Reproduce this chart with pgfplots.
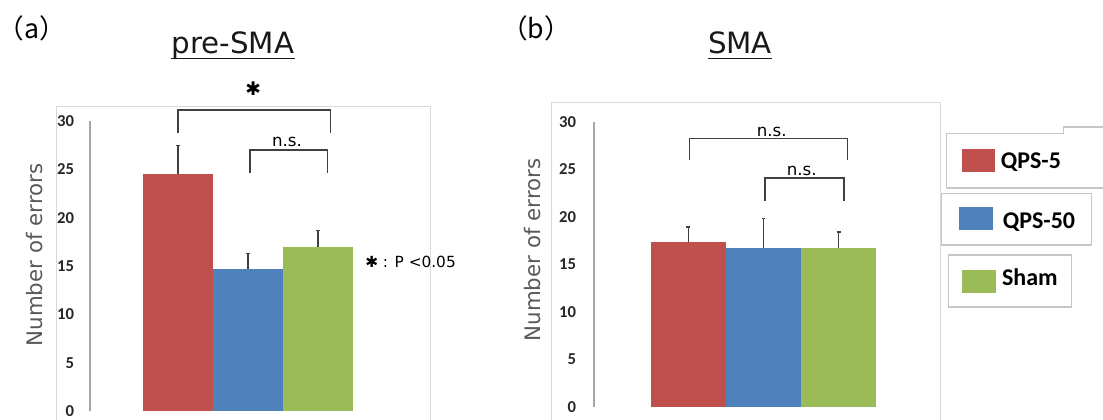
\documentclass[border=0pt]{standalone}
\usepackage{fontspec}
\setmainfont{Carlito}
\newfontfamily\dv{DejaVu Sans}
\newfontfamily\cjk{Noto Sans CJK JP}
\usepackage{pgfplots}
\pgfplotsset{compat=1.18}
\definecolor{qred}{HTML}{C0504D}
\definecolor{qblue}{HTML}{4F81BD}
\definecolor{qgreen}{HTML}{9BBB59}
\definecolor{errgray}{HTML}{404040}
\definecolor{areagray}{HTML}{D9D9D9}
\definecolor{axgray}{HTML}{A6A6A6}
\definecolor{labgray}{HTML}{595959}
\tikzset{brk/.style={draw=errgray, line width=1pt}}
\pgfplotsset{
  barstyle/.style={
    scale only axis, clip=false,
    ymin=0, ymax=30,
    hide x axis, axis y line=left,
    axis line style={-, draw=axgray, line width=0.9pt},
    ytick={0,5,...,30}, major tick length=0pt,
    yticklabel style={font=\fontsize{12.5}{14}\selectfont\bfseries, text=black!85},
    /pgf/number format/assume math mode=true,
    ybar, bar width=1,
  },
  errstyle/.style={
    bar shift=0pt, draw=none,
    error bars/.cd, y dir=plus, y explicit,
    error bar style={draw=errgray, line width=1pt},
    error mark options={draw=errgray, line width=1pt, mark size=1.3pt, rotate=90},
  },
}
\begin{document}
\begin{tikzpicture}
\path[use as bounding box] (0,0) rectangle (827.25pt,314.25pt);
% chart area borders
\draw[areagray, line width=0.75pt] (42pt,-2pt) -- (42pt,234.75pt) -- (322.5pt,234.75pt) -- (322.5pt,-2pt);
\draw[areagray, line width=0.75pt] (413.25pt,-2pt) -- (413.25pt,237.5pt) -- (705.5pt,237.5pt) -- (705.5pt,-2pt);

% ---------- (a) pre-SMA ----------
\begin{axis}[barstyle,
  at={(67.5pt,6pt)}, anchor=south west,
  width=210pt, height=217.5pt,
  xmin=-1.257143, xmax=2.742857,
  yticklabel style={xshift=-8.5pt},
]
\addplot[fill=qred, errstyle] coordinates {(0,24.5) +- (0,3.0)};
\addplot[fill=qblue, errstyle] coordinates {(1,14.7) +- (0,1.6)};
\addplot[fill=qgreen, errstyle] coordinates {(2,17.0) +- (0,1.7)};
\draw[brk] (axis cs:0,28.79) -- (axis cs:0,31.14) -- (axis cs:2.18,31.14) -- (axis cs:2.18,28.79);
\draw[brk] (axis cs:1.03,24.65) -- (axis cs:1.03,27.0) -- (axis cs:2.14,27.0) -- (axis cs:2.14,24.65);
\node[font=\dv\fontsize{12.5}{14}\selectfont, text=black, anchor=base] at (axis cs:1.557,27.34) {n.s.};
\node[font=\dv\fontsize{14}{16}\selectfont, text=black] at (axis cs:1.076,33.3) {✱};
\end{axis}

% ---------- (b) SMA ----------
\begin{axis}[barstyle,
  at={(445.5pt,9.225pt)}, anchor=south west,
  width=229.5pt, height=213.75pt,
  xmin=-1.251, xmax=2.813,
  yticklabel style={xshift=-10pt},
]
\addplot[fill=qred, errstyle] coordinates {(0,17.3) +- (0,1.6)};
\addplot[fill=qblue, errstyle] coordinates {(1,16.7) +- (0,3.1)};
\addplot[fill=qgreen, errstyle] coordinates {(2,16.7) +- (0,1.7)};
\draw[brk] (axis cs:0.015,25.93) -- (axis cs:0.015,28.21) -- (axis cs:2.113,28.21) -- (axis cs:2.113,25.93);
\draw[brk] (axis cs:1.02,21.70) -- (axis cs:1.02,24.07) -- (axis cs:2.07,24.07) -- (axis cs:2.07,21.70);
\node[font=\dv\fontsize{12.5}{14}\selectfont, text=black, anchor=base] at (axis cs:1.11,28.48) {n.s.};
\node[font=\dv\fontsize{12.5}{14}\selectfont, text=black, anchor=base] at (axis cs:1.507,24.34) {n.s.};
\end{axis}

% panel letters, titles, y labels
\node[font=\cjk\fontsize{20}{22}\selectfont, text=black] at (24pt,293.25pt) {（a）};
\node[font=\cjk\fontsize{20}{22}\selectfont, text=black] at (402pt,293.25pt) {（b）};
\node (t1) [font=\dv\fontsize{22}{24}\selectfont, text=black!90, anchor=base, inner sep=0pt] at (174.75pt,274.5pt) {pre-SMA};
\draw[black!90, line width=0.9pt] ([yshift=-4pt]t1.base west) -- ([yshift=-4pt]t1.base east);
\node (t2) [font=\dv\fontsize{22}{24}\selectfont, text=black!90, anchor=base, inner sep=0pt] at (555pt,274.5pt) {SMA};
\draw[black!90, line width=0.9pt] ([yshift=-4pt]t2.base west) -- ([yshift=-4pt]t2.base east);
\node[font=\dv\fontsize{16}{18}\selectfont, text=labgray, rotate=90, anchor=base, inner sep=0pt] at (31.5pt,123pt) {Number of errors};
\node[font=\dv\fontsize{16}{18}\selectfont, text=labgray, rotate=90, anchor=base, inner sep=0pt] at (405pt,126.75pt) {Number of errors};
\node[font=\dv\fontsize{11.5}{13}\selectfont, text=black, anchor=base west, inner sep=0pt] at (273.75pt,113.75pt) {✱ : P <0.05};

% legend boxes
\draw[black!22, line width=0.8pt] (710pt,173.25pt) -- (710pt,214.3pt) -- (797.5pt,214.3pt) -- (797.5pt,219pt) -- (832.5pt,219pt);
\draw[black!22, line width=0.8pt] (710pt,173.25pt) -- (832.5pt,173.25pt);
\draw[black!22, line width=0.8pt] (706.3pt,130.5pt) rectangle (818.8pt,169.3pt);
\draw[black!22, line width=0.8pt] (711.2pt,84pt) rectangle (803.8pt,123pt);
\fill[qred] (721.3pt,185.5pt) rectangle (746.25pt,202.3pt);
\fill[qblue] (719pt,141.75pt) rectangle (745pt,159pt);
\fill[qgreen] (721.5pt,94.5pt) rectangle (747pt,111.75pt);
\node[font=\fontsize{18}{20}\selectfont\bfseries, anchor=base west, inner sep=0pt] at (750.5pt,188pt) {QPS-5};
\node[font=\fontsize{18}{20}\selectfont\bfseries, anchor=base west, inner sep=0pt] at (752pt,143pt) {QPS-50};
\node[font=\fontsize{18}{20}\selectfont\bfseries, anchor=base west, inner sep=0pt] at (751.3pt,100pt) {Sham};
\end{tikzpicture}
\end{document}
